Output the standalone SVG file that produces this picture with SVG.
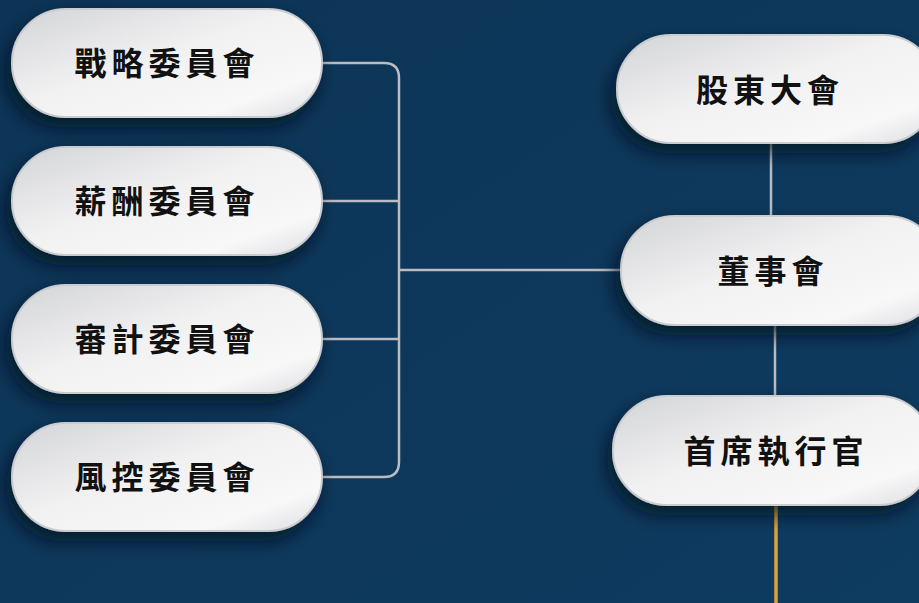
<svg xmlns="http://www.w3.org/2000/svg" width="919" height="603" viewBox="0 0 919 603">
<defs>
<linearGradient id="bg" x1="0" y1="0" x2="1" y2="1">
<stop offset="0" stop-color="#0c3456"/>
<stop offset="1" stop-color="#0e3b60"/>
</linearGradient>
<linearGradient id="pill" x1="0" y1="0" x2="1" y2="1">
<stop offset="0" stop-color="#d3d4d7"/>
<stop offset="0.45" stop-color="#f1f1f2"/>
<stop offset="0.8" stop-color="#f8f8f9"/>
<stop offset="1" stop-color="#dcdde0"/>
</linearGradient>
<linearGradient id="gold" x1="0" y1="0" x2="1" y2="0">
<stop offset="0" stop-color="#a8761f"/>
<stop offset="0.5" stop-color="#e2b25a"/>
<stop offset="1" stop-color="#a8761f"/>
</linearGradient>
<filter id="sh" x="-20%" y="-30%" width="140%" height="170%">
<feDropShadow dx="-5" dy="9" stdDeviation="9" flood-color="#020e1c" flood-opacity="0.75"/>
</filter>
</defs>
<style>
.pill{fill:url(#pill);stroke:#cbccd0;stroke-width:2;filter:url(#sh)}
.lbl{font-family:"Noto Sans CJK TC","Noto Sans CJK SC",sans-serif;font-weight:700;font-size:32px;letter-spacing:5px;fill:#111;text-anchor:middle;dominant-baseline:central}
.ln{fill:none;stroke:#b9bcc2;stroke-width:2.5}
</style>
<rect width="919" height="603" fill="url(#bg)"/>
<g id="connectors">
<path class="ln" d="M322 63 H384 Q399 63 399 78 V462 Q399 477 384 477 H322"/>
<path class="ln" d="M322 201 H399 M322 339 H399 M399 270 H622"/>
<path class="ln" d="M771 143 V216 M775 325 V396"/>
<rect x="774" y="505" width="4" height="98" fill="url(#gold)"/>
</g>
<g id="n1"><rect class="pill" x="12" y="9" width="310" height="108" rx="54"/><text class="lbl" x="167" y="61">戰略委員會</text></g>
<g id="n2"><rect class="pill" x="12" y="147" width="310" height="108" rx="54"/><text class="lbl" x="167" y="199">薪酬委員會</text></g>
<g id="n3"><rect class="pill" x="12" y="285" width="310" height="108" rx="54"/><text class="lbl" x="167" y="337">審計委員會</text></g>
<g id="n4"><rect class="pill" x="12" y="423" width="310" height="108" rx="54"/><text class="lbl" x="167" y="475">風控委員會</text></g>
<g id="n5"><rect class="pill" x="617" y="35" width="320" height="108" rx="54"/><text class="lbl" x="770" y="88">股東大會</text></g>
<g id="n6"><rect class="pill" x="621" y="216" width="320" height="109" rx="54"/><text class="lbl" x="773" y="269">董事會</text></g>
<g id="n7"><rect class="pill" x="613" y="396" width="320" height="109" rx="54"/><text class="lbl" x="776" y="449">首席執行官</text></g>
</svg>
